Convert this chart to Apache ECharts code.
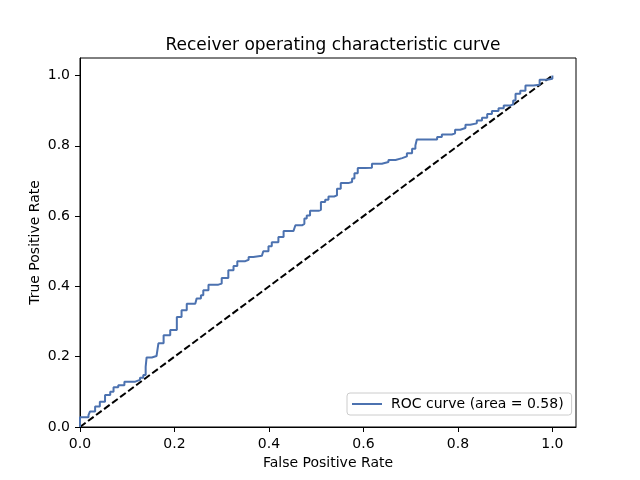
<!DOCTYPE html>
<html>
<head>
<meta charset="utf-8">
<script src="https://cdn.jsdelivr.net/npm/echarts@6/dist/echarts.min.js"></script>
<style>html,body{margin:0;padding:0;background:#fff}#c{width:640px;height:480px}</style>
</head>
<body>
<div id="c"></div>
<script>
var fpr = [0,0,0.018,0.021,0.032,0.042,0.053,0.064,0.071,0.081,
0.094,0.117,0.127,0.134,0.139,0.141,0.152,0.162,0.166,0.177,
0.191,0.205,0.215,0.226,0.244,0.247,0.256,0.261,0.272,0.293,
0.300,0.314,0.325,0.333,0.350,0.357,0.367,0.385,0.388,0.399,
0.406,0.420,0.431,0.452,0.456,0.470,0.475,0.480,0.487,0.505,
0.510,0.519,0.526,0.538,0.544,0.552,0.568,0.576,0.581,0.588,
0.604,0.618,0.639,0.653,0.668,0.682,0.692,0.703,0.710,0.713,
0.749,0.756,0.766,0.787,0.794,0.805,0.816,0.826,0.840,0.851,
0.862,0.872,0.886,0.897,0.911,0.917,0.922,0.932,0.943,0.960,
0.973,0.989,1.0];
var tpr = [0,0.028,0.034,0.044,0.058,0.072,0.091,0.100,0.113,0.119,
0.129,0.134,0.140,0.148,0.171,0.198,0.202,0.205,0.238,0.261,
0.276,0.313,0.332,0.351,0.351,0.366,0.375,0.389,0.405,0.408,
0.424,0.446,0.458,0.472,0.476,0.484,0.487,0.489,0.500,0.514,
0.526,0.541,0.558,0.560,0.574,0.578,0.593,0.602,0.615,0.618,
0.640,0.647,0.656,0.659,0.678,0.694,0.697,0.707,0.722,0.737,
0.738,0.749,0.754,0.760,0.765,0.770,0.779,0.792,0.801,0.818,
0.818,0.825,0.832,0.836,0.846,0.851,0.860,0.864,0.872,0.880,
0.891,0.899,0.907,0.915,0.918,0.929,0.948,0.957,0.972,0.974,
0.988,0.991,1.0];
var chanceX = [0, 1];
var chanceY = [0, 1];
var tickValues = [0, 0.2, 0.4, 0.6, 0.8, 1.0];
var titleText = 'Receiver operating characteristic curve';
var seriesName = 'ROC curve (area = 0.58)';

var font = 'DejaVu Sans';
var roc = fpr.map(function (x, i) { return [x, tpr[i]]; });
var chance = chanceX.map(function (x, i) { return [x, chanceY[i]]; });
function axis(name, gap, move) {
  return {
    type: 'value', min: 0, max: 1.05, interval: 0.2,
    name: name, nameLocation: 'middle', nameGap: gap, nameMoveOverlap: move,
    nameTextStyle: { fontFamily: font, fontSize: 14, color: '#000' },
    axisLine: { show: true, onZero: false, lineStyle: { color: '#000', width: 1 } },
    axisTick: { show: true, inside: false, length: 5, customValues: tickValues, lineStyle: { color: '#000' } },
    axisLabel: { customValues: tickValues, margin: 10, fontFamily: font, fontSize: 14, color: '#000',
      formatter: function (v) { return v.toFixed(1); } },
    splitLine: { show: false }
  };
}
var chart = echarts.init(document.getElementById('c'));
chart.setOption({
  animation: false,
  backgroundColor: '#fff',
  title: { text: titleText, left: 328, top: 32, textAlign: 'center',
    textStyle: { fontFamily: font, fontSize: 17, fontWeight: 'normal', color: '#000' } },
  grid: { left: 80, right: 64, top: 58, bottom: 53, show: true, borderColor: '#000', borderWidth: 1, backgroundColor: 'transparent' },
  xAxis: axis('False Positive Rate', 27, true),
  yAxis: axis('True Positive Rate', 38, false),
  legend: {
    data: [{ name: seriesName, icon: 'rect' }], left: 347, top: 393, orient: 'vertical',
    padding: [4, 8, 4, 5], itemGap: 0, itemWidth: 30, itemHeight: 2,
    borderColor: '#ccc', borderWidth: 1, borderRadius: 3, backgroundColor: 'rgba(255,255,255,0.8)',
    textStyle: { fontFamily: font, fontSize: 14, color: '#000', padding: [0, 0, 0, 4] }
  },
  series: [
    { name: seriesName, type: 'line', data: roc, step: 'end', showSymbol: false, symbol: 'none',
      lineStyle: { color: '#4C72B0', width: 2 }, itemStyle: { color: '#4C72B0' }, z: 3 },
    { name: 'chance', type: 'line', data: chance, showSymbol: false, symbol: 'none',
      lineStyle: { color: '#000', width: 2, type: [7, 3] }, z: 2 }
  ]
});
</script>
</body>
</html>
